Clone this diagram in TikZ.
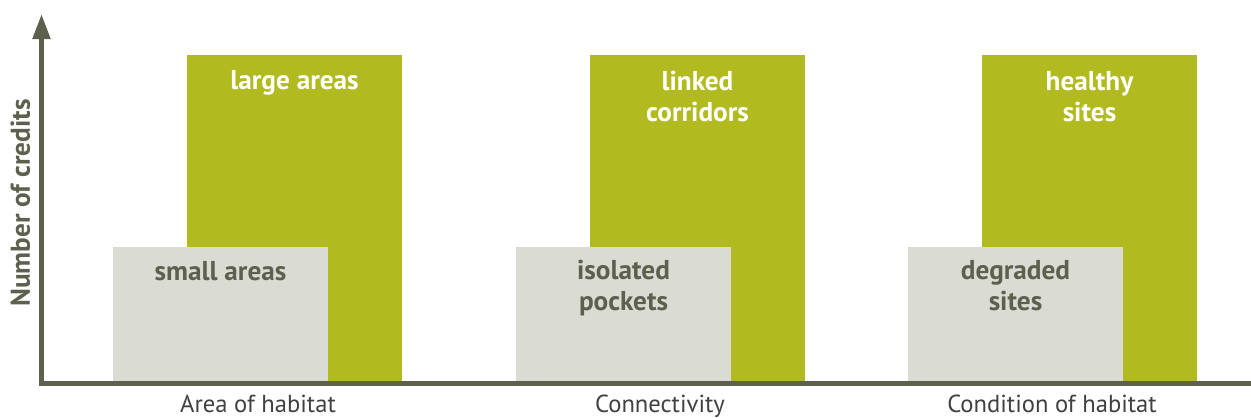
\documentclass[tikz,border=0pt]{standalone}
\usepackage{fontspec}
\setmainfont{PT Sans}
\usetikzlibrary{arrows.meta}

\definecolor{olive}{HTML}{B1BA1E}
\definecolor{stone}{HTML}{DADBD3}
\definecolor{slate}{HTML}{5E604E}

\begin{document}
\begin{tikzpicture}[
    x = 0.02cm,
    y = -0.02cm,
    >={Triangle[width=3.4mm,length=5mm]},
    axis/.style = {
      draw = slate,
      line width = 1mm
    },
    highbar/.style = {fill = olive},
    lowbar/.style  = {fill = stone},
    hightext/.style = {
      text = white,
      font = \bfseries\fontsize{15.5}{17.5}\selectfont,
      align = center,
      anchor = base,
      inner sep = 0pt
    },
    lowtext/.style = {
      hightext,
      text = slate
    },
    axistext/.style = {
      text = black!75,
      font = \fontsize{14}{18}\selectfont,
      anchor = base,
      inner sep = 0pt
    }
  ]
\useasboundingbox (0,0) rectangle (1251,417);

% bars
\foreach \o in {0,403,795} {
  \fill[highbar] (187+\o,55) rectangle (402+\o,381);
  \fill[lowbar]  (113+\o,247) rectangle (328+\o,381);
}

% axis
\coordinate (origin) at (41.5,383.5);
\coordinate (ytop)   at (41.5,14);
\coordinate (xend)   at (1251,383.5);
\draw[axis,->] (origin) -- (ytop);
\draw[axis] (39,383.5) -- (xend);

% labels (base = last line)
  \node[lowtext]  (small)    at (220.5,280) {small areas};
  \node[hightext] (large)    at (294.5,89)  {large areas};
  \node[lowtext]  (isolated) at (623.5,310) {isolated\\pockets};
  \node[hightext] (linked)   at (697.5,121) {linked\\corridors};
  \node[lowtext]  (degraded) at (1015.5,310) {degraded\\sites};
  \node[hightext] (healthy)  at (1089.5,121) {healthy\\sites};

  \node[axistext] (area)   at (258,412)  {Area of habitat};
  \node[axistext] (conn)   at (660,412)  {Connectivity};
  \node[axistext] (cond)   at (1052,412) {Condition of habitat};
  \node[lowtext,rotate=90] (credits) at (30,203) {Number of credits};

\end{tikzpicture}
\end{document}
